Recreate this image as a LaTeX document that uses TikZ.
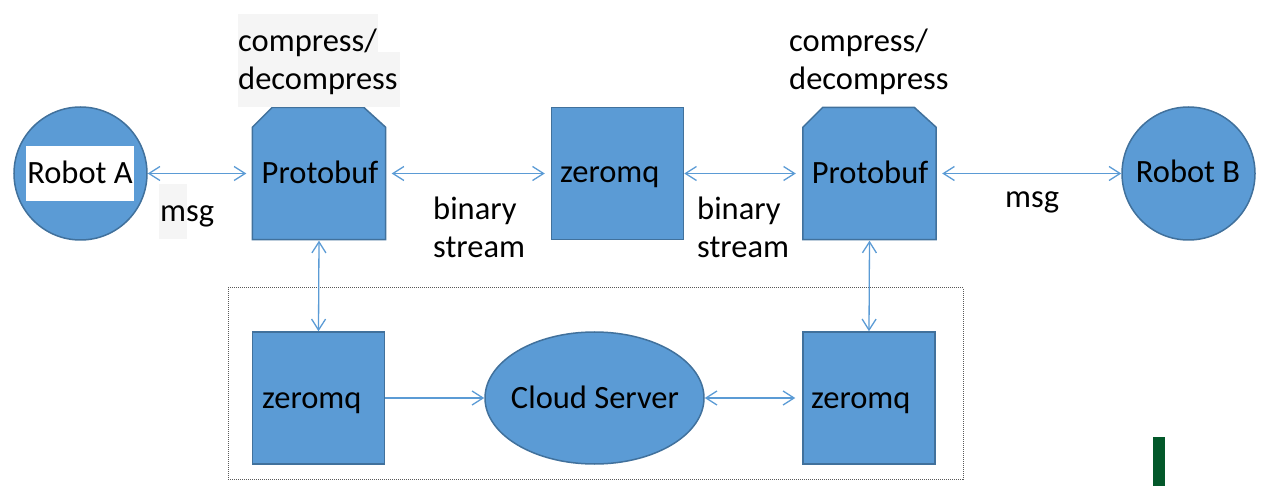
\documentclass[tikz,border=0pt]{standalone}
\usepackage{fontspec}
\setmainfont{Carlito}
\usetikzlibrary{arrows.meta,calc,shapes.geometric}
\definecolor{fillblue}{HTML}{5B9BD5}
\definecolor{edgeblue}{HTML}{41719C}
\definecolor{lineblue}{HTML}{5B9BD5}
\definecolor{hlgray}{HTML}{F5F5F5}
\definecolor{bargreen}{HTML}{03582A}
\begin{document}
\begin{tikzpicture}[x=1pt,y=-1pt,
  font=\fontsize{32.5}{38}\selectfont,
  holder/.style={draw=none, minimum width=133pt, minimum height=132pt, inner sep=0pt},
  sq/.style={rectangle, fill=fillblue, draw=edgeblue, line width=1.5pt, minimum width=132pt, minimum height=132pt, inner sep=0pt},
  pbshape/.style={fill=fillblue, draw=edgeblue, line width=1.5pt},
  rnd/.style={circle, fill=fillblue, draw=edgeblue, line width=1.5pt, minimum size=133pt, inner sep=0pt},
  cloudstyle/.style={ellipse, fill=fillblue, draw=edgeblue, line width=1.5pt, minimum width=219pt, minimum height=132pt, inner sep=0pt},
  txt/.style={inner sep=0pt, anchor=base},
  ltxt/.style={inner sep=0pt, anchor=base west},
  link/.style={draw=lineblue, line width=1.3pt, {Straight Barb[length=11pt,width=14pt]}-{Straight Barb[length=11pt,width=14pt]}},
  onelink/.style={draw=lineblue, line width=1.3pt, -{Straight Barb[length=11pt,width=14pt]}},
  framestyle/.style={draw=black!65, line width=1pt, dash pattern=on 1pt off 1pt, minimum width=735pt, minimum height=191pt, inner sep=0pt}
]
\useasboundingbox (0,0) rectangle (1261,486);

% dotted frame
\node[framestyle] (frame) at (595.5,383.5) {};

% Robot A
\node[rnd] (robA) at (80.5,173.5) {};
\node[fill=white, minimum width=108pt, minimum height=55pt, inner sep=0pt] (robAbg) at (80,173.5) {};
\node[txt] (robAt) at (80,184) {Robot A};

% Protobuf 1
\node[holder] (pb1) at (319,173.5) {};
\filldraw[pbshape] (pb1.south west) -- ($(pb1.north west)+(0,20)$) -- ($(pb1.north west)+(20,0)$)
  -- ($(pb1.north east)+(-22,0)$) -- ($(pb1.north east)+(0,20)$) -- (pb1.south east) -- cycle;
\node[txt] (pb1t) at (320,184) {Protobuf};

% labels for Protobuf 1
\fill[hlgray] (238,14) rectangle (378,52);
\fill[hlgray] (238,52) rectangle (400,107);
\node[ltxt] (cmp1a) at (238,52) {compress/};
\node[ltxt] (cmp1b) at (238,90) {decompress};
\fill[hlgray] (159,184) rectangle (187,239);
\node[ltxt] (msg1) at (160,222) {msg};

% zeromq top
\node[sq] (zmqT) at (617.5,173.5) {};
\node[ltxt] (zmqTt) at (560,183) {zeromq};
\node[ltxt] (bin1a) at (433,220) {binary};
\node[ltxt] (bin1b) at (433,258) {stream};
\node[ltxt] (bin2a) at (697,220) {binary};
\node[ltxt] (bin2b) at (697,258) {stream};

% Protobuf 2
\node[holder] (pb2) at (869.5,173.5) {};
\filldraw[pbshape] (pb2.south west) -- ($(pb2.north west)+(0,20)$) -- ($(pb2.north west)+(20,0)$)
  -- ($(pb2.north east)+(-22,0)$) -- ($(pb2.north east)+(0,20)$) -- (pb2.south east) -- cycle;
\node[txt] (pb2t) at (870,184) {Protobuf};
\node[ltxt] (cmp2a) at (789,52) {compress/};
\node[ltxt] (cmp2b) at (789,90) {decompress};

% Robot B
\node[rnd] (robB) at (1188.5,173.5) {};
\node[txt] (robBt) at (1188,183) {Robot B};
\node[ltxt] (msg2) at (1005,208) {msg};

% bottom row
\node[sq] (zmqL) at (318.5,398) {};
\node[ltxt] (zmqLt) at (262,408) {zeromq};
\node[cloudstyle] (cloud) at (594.5,398) {};
\node[txt] (cloudt) at (595,408) {Cloud Server};
\node[sq] (zmqR) at (869,398) {};
\node[ltxt] (zmqRt) at (811,408) {zeromq};

% connectors
\draw[link, shorten >=6pt] (robA.east) -- (pb1.west);
\draw[link, shorten <=6pt, shorten >=6pt] (pb1.east) -- (zmqT.west);
\draw[link, shorten >=7pt] (zmqT.east) -- (pb2.west);
\draw[link, shorten <=6pt] (pb2.east) -- (robB.west);
\draw[link, shorten <=1pt] (pb1.south) -- (zmqL.north);
\draw[link, shorten <=1pt] (pb2.south) -- (zmqR.north);
\draw[onelink] (zmqL.east) -- (cloud.west);
\draw[link, shorten >=7pt] (cloud.east) -- (zmqR.west);

% green bar
\fill[bargreen] (1153,437) rectangle (1165,486);
\end{tikzpicture}
\end{document}
